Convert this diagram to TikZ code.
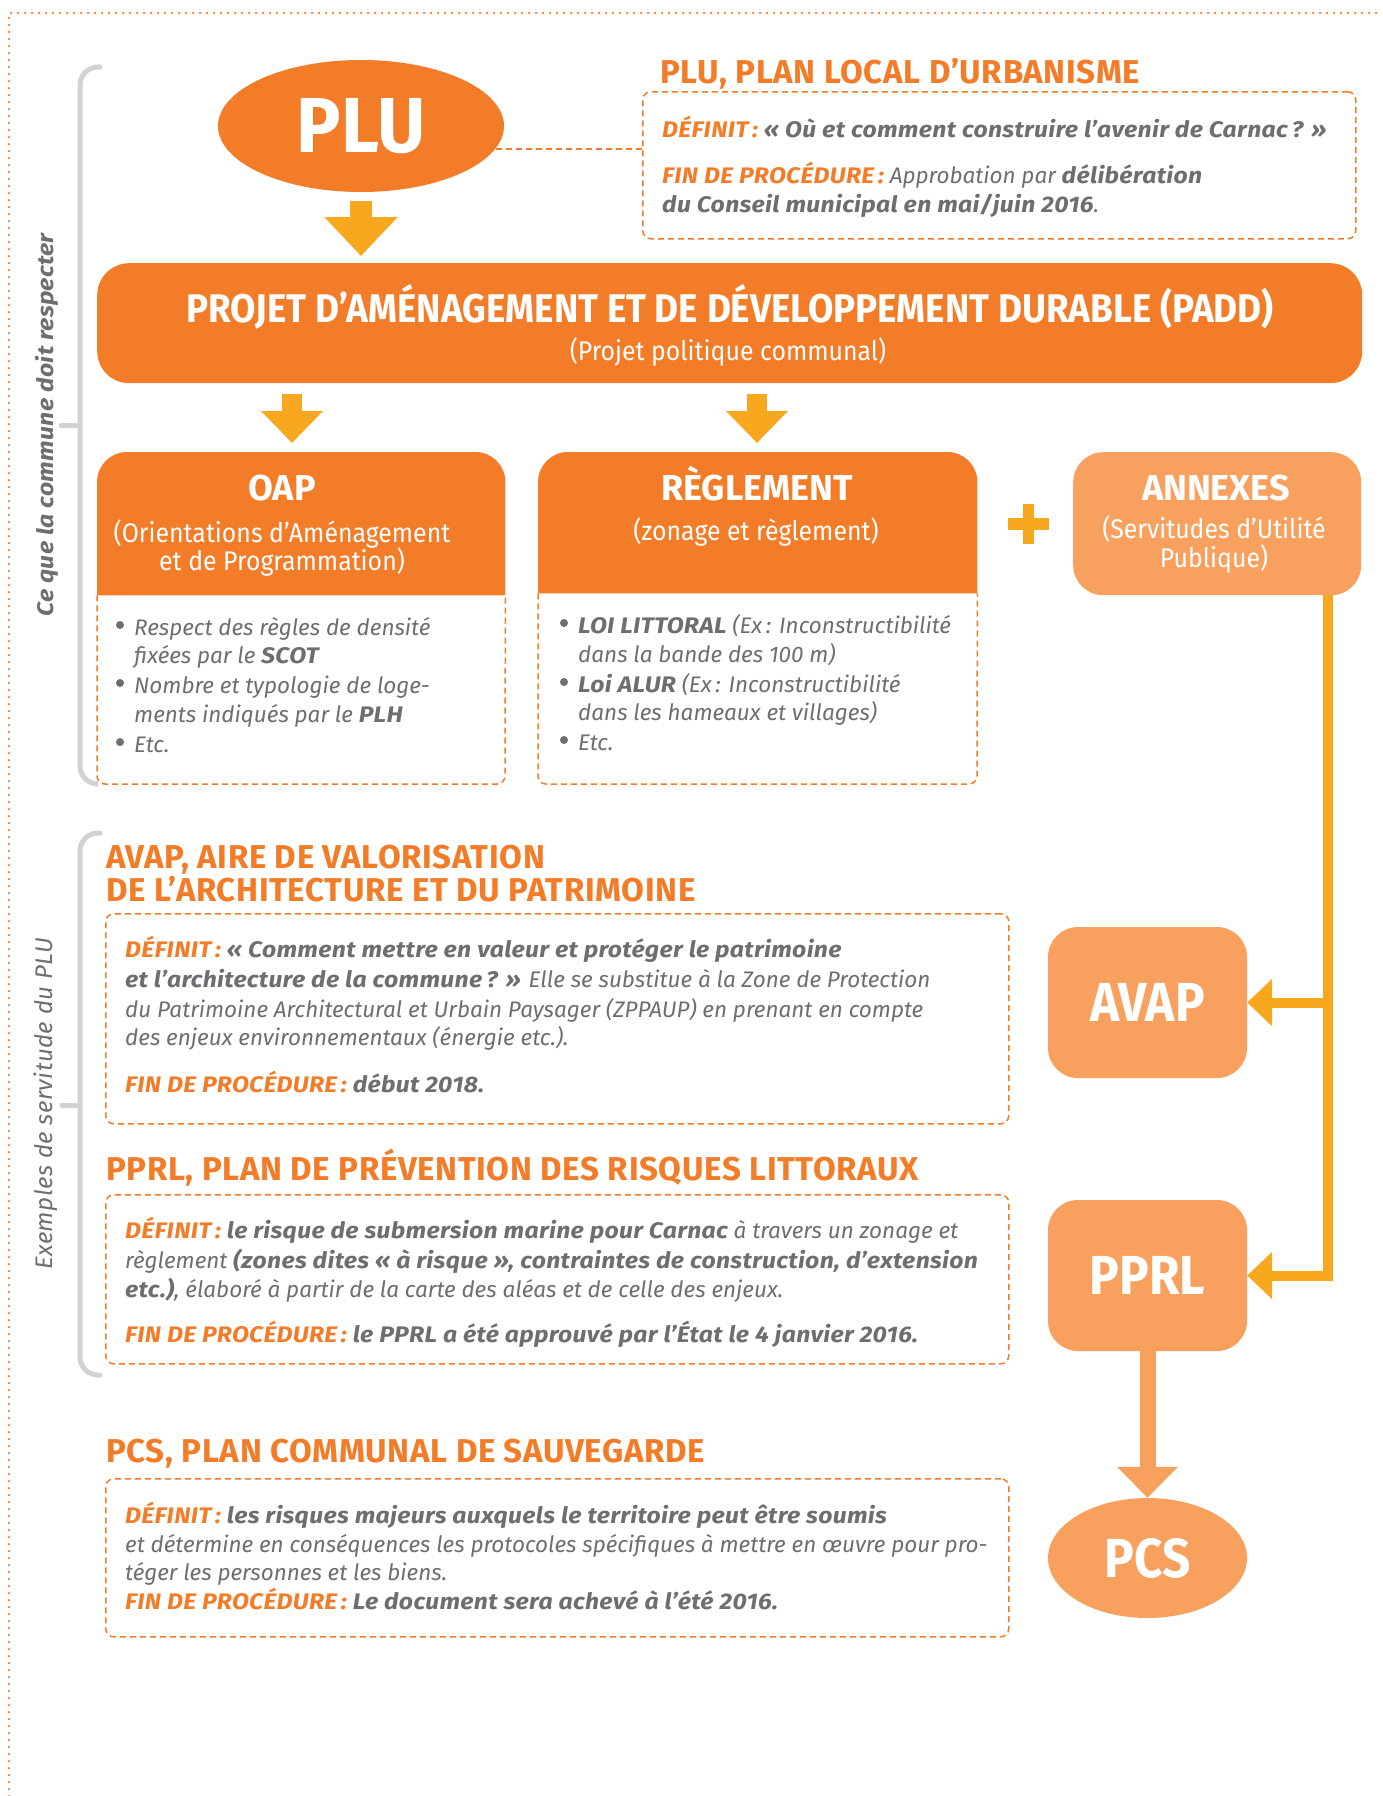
\documentclass[tikz,border=0pt]{standalone}
\usepackage{fontspec}
\setmainfont{Fira Sans}[BoldItalicFeatures={FakeStretch=1.1,LetterSpace=1.5}]
\newfontfamily\cf{Fira Sans}[FakeStretch=0.92]
\newfontfamily\hf{Fira Sans}[LetterSpace=2]
\newfontfamily\pf{Fira Sans}[FakeStretch=0.95]
\newfontfamily\nf{Fira Sans}[FakeStretch=0.9]
\usetikzlibrary{arrows.meta,shapes.geometric}
\definecolor{dorange}{HTML}{F37C29}
\definecolor{lorange}{HTML}{F8A15F}
\definecolor{yarrow}{HTML}{F7A81F}
\definecolor{tgrey}{HTML}{6D6E71}
\definecolor{bgrey}{HTML}{D1D2D4}
\newcommand\bitx[1]{{\bfseries\itshape #1}}
\newcommand\deflab{{\color{dorange}\bfseries\itshape DÉFINIT\,:}}
\newcommand\finlab{{\color{dorange}\bfseries\itshape FIN DE PROCÉDURE\,:}}
\tikzset{
 txt/.style={inner sep=0pt, anchor=base west, text=tgrey, font=\fontsize{22.5}{26}\selectfont\itshape},
 head/.style={inner sep=0pt, anchor=base west, text=dorange, font=\hf\bfseries\fontsize{33}{36}\selectfont},
 dbox/.style={draw=dorange, line width=1.5pt, dash pattern=on 6pt off 4pt, rounded corners=8pt},
 dotb/.style={draw=dorange, line width=2.5pt, line cap=round, dash pattern=on 0pt off 7pt},
 brk/.style={draw=bgrey, line width=5pt, line cap=round, rounded corners=18pt},
 sidelab/.style={inner sep=0pt, rotate=90, text=tgrey},
 bigarrow/.style={draw=yarrow, line width=22pt, -{Triangle[length=39pt,width=71pt]}},
 medarrow/.style={draw=yarrow, line width=20pt, -{Triangle[length=32pt,width=60pt]}},
 conn/.style={draw=yarrow, line width=10pt, -{Triangle[length=25pt,width=46pt]}},
 hdrbox/.style={inner sep=0pt, anchor=north west},
 ttl/.style={inner sep=0pt, anchor=base, text=white, font=\bfseries\fontsize{36}{40}\selectfont},
 sub/.style={inner sep=0pt, anchor=base, text=white, font=\cf\fontsize{27}{30}\selectfont},
 lnode/.style={fill=lorange, text=white, inner sep=0pt, font=\nf\bfseries\fontsize{55}{60}\selectfont},
 bul/.style={circle, fill=tgrey, inner sep=0pt, minimum size=8pt},
}
\begin{document}
\begin{tikzpicture}[x=1pt,y=-1pt]
\useasboundingbox (0,0) rectangle (1383,1796);
\fill[white] (0,0) rectangle (1383,1796);
% page border
\draw[dotb] (9,1796) -- (9,13) -- (1383,13);
% brackets
\draw[brk] (100,67) -- (80,67) -- (80,784) -- (97,784);
\draw[brk] (61,425) -- (80,425);
\draw[brk] (100,833) -- (80,833) -- (80,1375) -- (100,1375);
\draw[brk] (62,1105) -- (80,1105);
\node[sidelab, font=\fontsize{22.5}{28}\selectfont\bfseries\itshape] (lab1) at (47,425) {Ce que la commune doit respecter};
\node[sidelab, font=\fontsize{24}{28}\selectfont\itshape\addfontfeature{LetterSpace=2}] (lab2) at (46,1104) {Exemples de servitude du PLU};

% PLU
\node[ellipse, fill=dorange, minimum width=286pt, minimum height=132pt, inner sep=0pt, text=white, font=\pf\bfseries\fontsize{78}{80}\selectfont] (plu) at (361,126) {PLU};
\node[dbox, hdrbox, minimum width=713pt, minimum height=147pt] (plubox) at (642,91) {};
\coordinate (pluc) at (496,149);
\draw[dorange, line width=1.5pt, dash pattern=on 6pt off 4pt] (pluc) -- (pluc -| plubox.west);
\node[head] (plut) at (660,83) {PLU, PLAN LOCAL D’URBANISME};
\node[txt] (plul1) at (662,137) {\deflab\ \bitx{« Où et comment construire l’avenir de Carnac\,? »}};
\node[txt] (plul2) at (662,183) {\finlab\ Approbation par \bitx{délibération}};
\node[txt] (plul3) at (662,212) {\bitx{du Conseil municipal en mai/juin 2016}.};

% PADD
\node[fill=dorange, rounded corners=32pt, hdrbox, minimum width=1265pt, minimum height=120pt] (padd) at (97,263) {};
\node[inner sep=0pt, anchor=base, text=white, font=\cf\bfseries\fontsize{40}{44}\selectfont] (paddt) at (730,322) {PROJET D’AMÉNAGEMENT ET DE DÉVELOPPEMENT DURABLE (PADD)};
\node[sub] (padds) at (728,360) {(Projet politique communal)};
\draw[bigarrow, shorten <=9pt, shorten >=7pt] (plu.south) -- (plu.south |- padd.north);

% OAP
\node[hdrbox, minimum width=408pt, minimum height=143pt] (oaph) at (97,452) {};
\fill[dorange] (oaph.south west) [rounded corners=30pt] -- (oaph.north west) -- (oaph.north east) [sharp corners] -- (oaph.south east) -- cycle;
\draw[dbox] (oaph.south west) -- (97,784) -- (505,784) -- (oaph.south east);
\node[ttl] (oapt) at (282,500) {OAP};
\node[sub] (oaps1) at (282,542) {(Orientations d’Aménagement};
\node[sub] (oaps2) at (282,570) {et de Programmation)};
\node[bul] (oapb1) at (120,625) {};
\node[bul] (oapb2) at (120,683) {};
\node[bul] (oapb3) at (120,742) {};
\node[txt] (oapl1) at (134,635) {Respect des règles de densité};
\node[txt] (oapl2) at (134,663) {fixées par le \bitx{SCOT}};
\node[txt] (oapl3) at (134,693) {Nombre et typologie de loge-};
\node[txt] (oapl4) at (134,722) {ments indiqués par le \bitx{PLH}};
\node[txt] (oapl5) at (134,752) {Etc.};
\coordinate (a1) at (292,0);
\draw[medarrow, shorten <=11pt, shorten >=9pt] (padd.south -| a1) -- (oaph.north -| a1);

% REGLEMENT
\node[hdrbox, minimum width=439pt, minimum height=141pt] (regh) at (538,452) {};
\fill[dorange] (regh.south west) [rounded corners=30pt] -- (regh.north west) -- (regh.north east) [sharp corners] -- (regh.south east) -- cycle;
\draw[dbox] (regh.south west) -- (538,784) -- (977,784) -- (regh.south east);
\node[ttl] (regt) at (757,500) {RÈGLEMENT};
\node[sub] (regs) at (756,540) {(zonage et règlement)};
\node[bul] (regb1) at (564,623) {};
\node[bul] (regb2) at (564,682) {};
\node[bul] (regb3) at (564,740) {};
\node[txt] (regl1) at (578,633) {\bitx{LOI LITTORAL} (Ex\,: Inconstructibilité};
\node[txt] (regl2) at (578,662) {dans la bande des 100 m)};
\node[txt] (regl3) at (578,692) {\bitx{Loi ALUR} (Ex\,: Inconstructibilité};
\node[txt] (regl4) at (578,720) {dans les hameaux et villages)};
\node[txt] (regl5) at (578,750) {Etc.};
\coordinate (a2) at (757,0);
\draw[medarrow, shorten <=11pt, shorten >=9pt] (padd.south -| a2) -- (regh.north -| a2);

% ANNEXES
\node[fill=lorange, rounded corners=30pt, hdrbox, minimum width=288pt, minimum height=143pt] (annexes) at (1073,452) {};
\node[ttl] (annt) at (1216,500) {ANNEXES};
\node[sub] (anns1) at (1214,538) {(Servitudes d’Utilité};
\node[sub] (anns2) at (1214,567) {Publique)};
\fill[yarrow] (1022.5,504) rectangle (1033.5,544);
\fill[yarrow] (1008,518) rectangle (1049,530);

% AVAP
\node[head] (avapt1) at (106,868) {AVAP, AIRE DE VALORISATION};
\node[head] (avapt2) at (106,901) {DE L’ARCHITECTURE ET DU PATRIMOINE};
\node[dbox, hdrbox, minimum width=903pt, minimum height=210pt] (avapbox) at (105,913) {};
\node[txt] (avapl1) at (125,957) {\deflab\ \bitx{« Comment mettre en valeur et protéger le patrimoine}};
\node[txt] (avapl2) at (125,987) {\bitx{et l’architecture de la commune\,? »} Elle se substitue à la Zone de Protection};
\node[txt] (avapl3) at (125,1017) {du Patrimoine Architectural et Urbain Paysager (ZPPAUP) en prenant en compte};
\node[txt] (avapl4) at (125,1045) {des enjeux environnementaux (énergie etc.).};
\node[txt] (avapl5) at (125,1092) {\finlab\ \bitx{début 2018.}};
\node[lnode, rounded corners=30pt, minimum width=199pt, minimum height=151pt] (avap) at (1147.5,1002.5) {AVAP};

% PPRL
\node[head] (pprlt) at (106,1180) {PPRL, PLAN DE PRÉVENTION DES RISQUES LITTORAUX};
\node[dbox, hdrbox, minimum width=903pt, minimum height=169pt] (pprlbox) at (105,1194) {};
\node[txt] (pprll1) at (125,1238) {\deflab\ \bitx{le risque de submersion marine pour Carnac} à travers un zonage et};
\node[txt] (pprll2) at (125,1268) {règlement \bitx{(zones dites « à risque », contraintes de construction, d’extension}};
\node[txt] (pprll3) at (125,1297) {\bitx{etc.)}, élaboré à partir de la carte des aléas et de celle des enjeux.};
\node[txt] (pprll4) at (125,1342) {\finlab\ \bitx{le PPRL a été approuvé par l’État le 4 janvier 2016.}};
\node[lnode, rounded corners=30pt, minimum width=199pt, minimum height=151pt] (pprl) at (1147.5,1275.5) {PPRL};

% PCS
\node[head] (pcst) at (106,1462) {PCS, PLAN COMMUNAL DE SAUVEGARDE};
\node[dbox, hdrbox, minimum width=903pt, minimum height=158pt] (pcsbox) at (105,1478) {};
\node[txt] (pcsl1) at (125,1523) {\deflab\ \bitx{les risques majeurs auxquels le territoire peut être soumis}};
\node[txt] (pcsl2) at (125,1552) {et détermine en conséquences les protocoles spécifiques à mettre en œuvre pour pro-};
\node[txt] (pcsl3) at (125,1580) {téger les personnes et les biens.};
\node[txt] (pcsl4) at (125,1609) {\finlab\ \bitx{Le document sera achevé à l’été 2016.}};
\node[lnode, ellipse, minimum width=199pt, minimum height=120pt] (pcs) at (1147.5,1558) {PCS};

% connectors
\coordinate (jx) at (1328,1002.5);
\draw[conn] (annexes.south -| jx) |- (pprl.east);
\draw[conn] (jx) -- (avap.east);
\draw[draw=lorange, line width=16pt, -{Triangle[length=31pt,width=59pt]}] (pprl.south) -- (pcs.north);
\end{tikzpicture}
\end{document}
